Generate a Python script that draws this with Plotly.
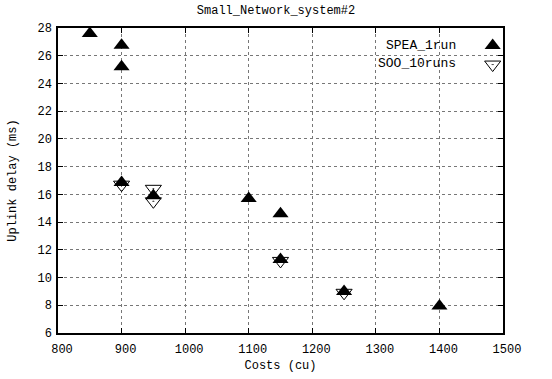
import plotly.graph_objects as go

spea_cost = [850, 900, 900, 900, 950, 1100, 1150, 1150, 1250, 1400]
spea_delay = [27.6, 26.75, 25.2, 16.85, 15.9, 15.7, 14.6, 11.3, 9.0, 7.95]
soo_cost = [900, 950, 950, 1150, 1250]
soo_delay = [16.7, 16.4, 15.5, 11.2, 8.9]

x_ticks = [800, 900, 1000, 1100, 1200, 1300, 1400, 1500]
y_ticks = [6, 8, 10, 12, 14, 16, 18, 20, 22, 24, 26, 28]

FONT = "Liberation Mono"

fig = go.Figure()
fig.add_trace(go.Scatter(x=spea_cost, y=spea_delay, mode="markers", name="",
                         marker=dict(symbol="triangle-up", size=14, color="black",
                                     line=dict(width=0))))
fig.add_trace(go.Scatter(x=soo_cost, y=soo_delay, mode="markers", name="",
                         marker=dict(symbol="triangle-down-open-dot", size=14, color="black",
                                     line=dict(width=1))))

axis_common = dict(showline=True, linecolor="black", linewidth=1.5, mirror="ticks",
                   ticks="inside", ticklen=5, tickcolor="black", automargin=False,
                   showgrid=True, gridcolor="#777777", griddash="dot", gridwidth=1,
                   zeroline=False, tickfont=dict(family=FONT, size=12, color="black"))

fig.update_xaxes(range=[800, 1500], tickvals=x_ticks, ticklabelshift=4, ticklabelstandoff=4,
                 title=dict(text="Costs (cu)", font=dict(family=FONT, size=12, color="black"), standoff=4),
                 **axis_common)
fig.update_yaxes(range=[6, 28], tickvals=y_ticks, ticklabelstandoff=2,
                 title=dict(text="Uplink delay (ms)", font=dict(family=FONT, size=12, color="black"), standoff=18),
                 **axis_common)

fig.update_layout(
    width=552, height=379,
    margin=dict(l=58, r=49, t=28, b=46),
    paper_bgcolor="white", plot_bgcolor="white",
    title=dict(text="Small_Network_system#2", x=0.5, xanchor="center", y=0.974, yanchor="middle",
               automargin=False, font=dict(family=FONT, size=12, color="black")),
    showlegend=True,
    legend=dict(x=1.033, y=0.99, xanchor="right", yanchor="top", bgcolor="rgba(0,0,0,0)",
                font=dict(family=FONT, size=12), itemwidth=30, tracegroupgap=0),
    annotations=[
        dict(text="SPEA_1run", xref="paper", yref="paper", x=0.898, y=0.944, xanchor="right",
             yanchor="middle", showarrow=False, font=dict(family=FONT, size=13, color="black")),
        dict(text="SOO_10runs", xref="paper", yref="paper", x=0.898, y=0.882, xanchor="right",
             yanchor="middle", showarrow=False, font=dict(family=FONT, size=13, color="black")),
    ],
)

fig.write_html("out.html", config={"displayModeBar": False},
               post_script="document.body.style.margin='0';")
